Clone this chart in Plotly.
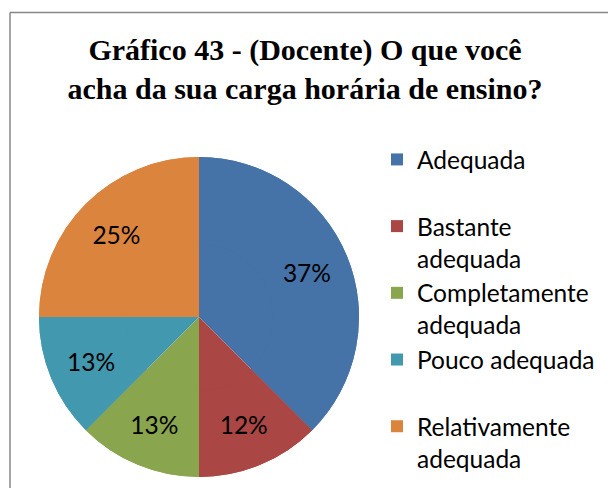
import plotly.graph_objects as go

categories = ["Adequada", "Bastante adequada", "Completamente adequada",
              "Pouco adequada", "Relativamente adequada"]
legend_names = ["Adequada<br> ", "Bastante<br>adequada", "Completamente<br>adequada",
                "Pouco adequada<br> ", "Relativamente<br>adequada"]
counts = [3, 1, 1, 1, 2]
pct_labels = ["37%", "12%", "13%", "13%", "25%"]
colors = ["#4572A7", "#AA4643", "#89A54E", "#4198AF", "#DB843D"]

W, H = 616, 488
OFF = 8  # page body margin offset
cx, cy, r = 199 - OFF, 317 - OFF, 160
dom = dict(x=[(cx - r) / W, (cx + r) / W], y=[1 - (cy + r) / H, 1 - (cy - r) / H])

base = go.Pie(
    labels=legend_names, values=counts,
    textinfo="none", sort=False, direction="clockwise", rotation=0,
    marker=dict(colors=colors, line=dict(width=0)),
    showlegend=False, hoverinfo="skip", domain=dom,
)
ring = go.Pie(
    labels=legend_names, values=counts,
    text=pct_labels, textinfo="text",
    textposition="inside", insidetextorientation="horizontal",
    hole=0.46,
    sort=False, direction="clockwise", rotation=0,
    marker=dict(colors=colors, line=dict(width=0)),
    textfont=dict(family="Lato", size=24.5, color="#000000"),
    hoverinfo="label+percent", domain=dom,
)

fig = go.Figure([base, ring])

fig.update_layout(
    width=W, height=H,
    margin=dict(l=0, r=0, t=0, b=0),
    paper_bgcolor="white",
    plot_bgcolor="white",
    title=dict(
        text="Gráfico 43 - (Docente) O que você<br>acha da sua carga horária de ensino?",
        x=(305 - OFF) / W, xanchor="center",
        y=1 - 52 / H, yanchor="top",
        font=dict(family="Liberation Serif", size=30, color="#000000", weight="bold"),
    ),
    legend=dict(
        x=369 / W, xanchor="left",
        y=1 - 129 / H, yanchor="top",
        valign="top",
        font=dict(family="Lato", size=24.5, color="#000000"),
        bgcolor="rgba(0,0,0,0)",
    ),
    shapes=[
        dict(type="line", xref="paper", yref="paper",
             x0=(10 - OFF) / W, x1=1.05, y0=1 - (12.5 - OFF) / H, y1=1 - (12.5 - OFF) / H,
             line=dict(color="#868686", width=1.5)),
        dict(type="line", xref="paper", yref="paper",
             x0=(10 - OFF) / W, x1=(10 - OFF) / W, y0=1 - (12.5 - OFF) / H, y1=-0.05,
             line=dict(color="#868686", width=1.5)),
    ],
)

fig.write_html("out.html")
